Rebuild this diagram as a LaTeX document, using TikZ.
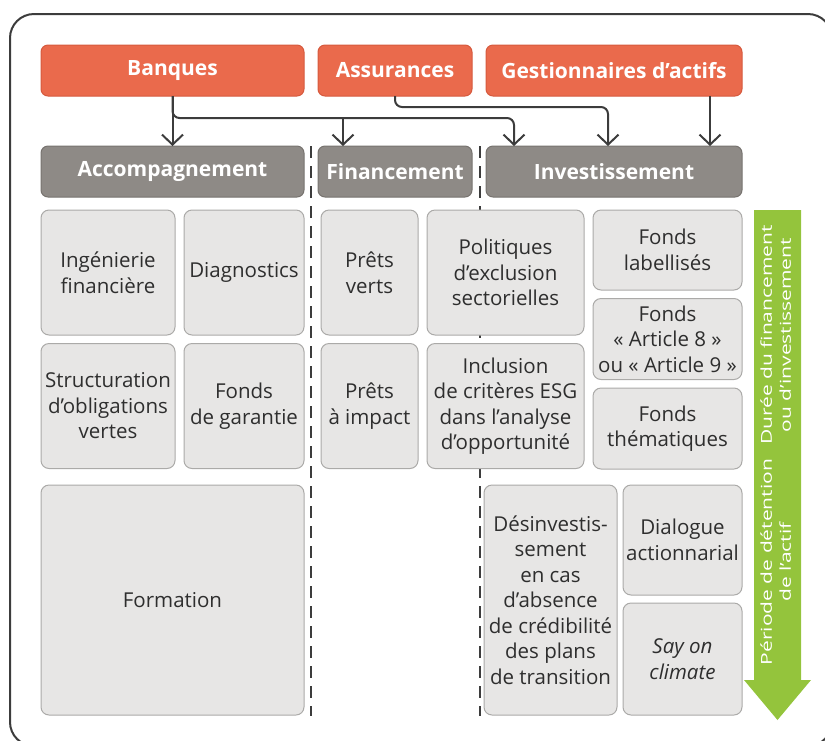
\documentclass[tikz,border=0pt]{standalone}
\usepackage{fontspec}
\setmainfont{Open Sans}
\usetikzlibrary{arrows.meta}

\definecolor{actorfill}{HTML}{EA6A4C}
\definecolor{actorline}{HTML}{D65A3E}
\definecolor{headfill}{HTML}{8E8A86}
\definecolor{headline}{HTML}{77736F}
\definecolor{itemfill}{HTML}{E7E6E5}
\definecolor{itemline}{HTML}{ABAAA8}
\definecolor{linecol}{HTML}{3C3C3C}
\definecolor{arrowgreen}{HTML}{94C43C}
\definecolor{textcol}{HTML}{2E2E2E}

\begin{document}
\begin{tikzpicture}[x=1pt,y=-1pt,
    actor/.style={draw=actorline, fill=actorfill, rounded corners=7pt, line width=1pt,
        minimum height=51pt, inner sep=0pt, outer sep=0pt, text=white,
        font=\fontsize{21}{25}\selectfont\bfseries},
    head/.style={actor, draw=headline, fill=headfill},
    item/.style={draw=itemline, fill=itemfill, rounded corners=8pt, line width=1pt,
        inner sep=0pt, outer sep=0pt, align=center, text=textcol,
        font=\fontsize{20.5}{25.5}\selectfont},
    flow/.style={draw=linecol, line width=2pt, rounded corners=7pt,
        -{Straight Barb[length=10pt,width=21pt,line width=2pt]}},
    sep/.style={draw=linecol, line width=2.5pt, dash pattern=on 12pt off 8pt},
    period/.style={rotate=90, text=white, inner sep=0pt,
        font=\fontsize{15}{19}\selectfont}]
    \useasboundingbox (0,0) rectangle (825,740);
    % Draw outer frame
    \draw[linecol, line width=2pt, rounded corners=24pt] (10,14) rectangle (832,746);
    % Actors
    \node[actor, minimum width=263pt] (banques) at (172.5,70.5) {Banques};
    \node[actor, minimum width=154pt] (assur) at (395,70.5) {Assurances};
    \node[actor, minimum width=256pt] (gest) at (614,70.5) {Gestionnaires d'actifs};
    % Headers
    \node[head, minimum width=263pt] (accomp) at (172.5,171.5) {Accompagnement};
    \node[head, minimum width=154pt] (financ) at (395,171.5) {Financement};
    \node[head, minimum width=256pt] (invest) at (614,171.5) {Investissement};
    % Separators
    \foreach \x in {311,480} \draw[sep] (\x,146) -- (\x,716);
    % Accompagnement
    \node[item, minimum width=134pt, minimum height=125pt] (inge) at (108,272.5) {Ingénierie\\financière};
    \node[item, minimum width=120pt, minimum height=125pt] (diag) at (244,272.5) {Diagnostics};
    \node[item, minimum width=134pt, minimum height=125pt] (struct) at (108,406) {Structuration\\d'obligations\\vertes};
    \node[item, minimum width=120pt, minimum height=125pt] (garant) at (244,406) {Fonds\\de garantie};
    \node[item, minimum width=263pt, minimum height=230pt] (formation) at (172.5,600) {Formation};
    % Financement
    \node[item, minimum width=97pt, minimum height=125pt] (pverts) at (369.5,272.5) {Prêts\\verts};
    \node[item, minimum width=97pt, minimum height=125pt] (pimpact) at (369.5,406) {Prêts\\à impact};
    \node[item, minimum width=157pt, minimum height=125pt] (exclu) at (505.5,272.5) {Politiques\\d’exclusion\\sectorielles};
    \node[item, minimum width=157pt, minimum height=125pt] (esg) at (505.5,406) {Inclusion\\de critères ESG\\dans l'analyse\\d'opportunité};
    % Investissement
    \node[item, minimum width=149pt, minimum height=80pt] (label) at (667.5,250) {Fonds\\labellisés};
    \node[item, minimum width=149pt, minimum height=81pt] (article) at (667.5,339) {Fonds\\« Article 8 »\\ou « Article 9 »};
    \node[item, minimum width=149pt, minimum height=81pt] (thema) at (667.5,428.5) {Fonds\\thématiques};
    \node[item, minimum width=133pt, minimum height=230pt] (desinv) at (550.5,600) {Désinvestis-\\sement\\en cas\\d'absence\\de crédibilité\\des plans\\de transition};
    \node[item, minimum width=119pt, minimum height=110pt] (dialog) at (682.5,540) {Dialogue\\actionnarial};
    \node[item, minimum width=119pt, minimum height=112pt] (say) at (682.5,659) {\itshape Say on\\\itshape climate};
    % Arrows from actors
    \coordinate (bfin) at (343,118);
    \coordinate (binv) at (514,118);
    \coordinate (ainv) at (608,107);
    \coordinate (ginv) at (710,96);
    \draw[flow] (banques.south) -- (accomp.north);
    \draw[flow] (banques.south) |- (binv) -- (binv |- invest.north);
    \draw[flow] (bfin) -- (bfin |- financ.north);
    \draw[flow] (assur.south) |- (ainv) -- (ainv |- invest.north);
    \draw[flow] (ginv) -- (ginv |- invest.north);
    % Time arrow
    \fill[arrowgreen] (754,210) -- (801,210) -- (801,680) -- (811,680)
        -- (777.5,720) -- (744,680) -- (754,680) -- cycle;
    \node[period] (duree) at (777.5,335)
        {\scalebox{1.4}[1]{\begin{tabular}{@{}c@{}}Durée du financement\\ou d'investissement\end{tabular}}};
    \node[period] (detention) at (777.5,562)
        {\scalebox{1.4}[1]{\begin{tabular}{@{}c@{}}Période de détention\\de l'actif\end{tabular}}};
\end{tikzpicture}
\end{document}
